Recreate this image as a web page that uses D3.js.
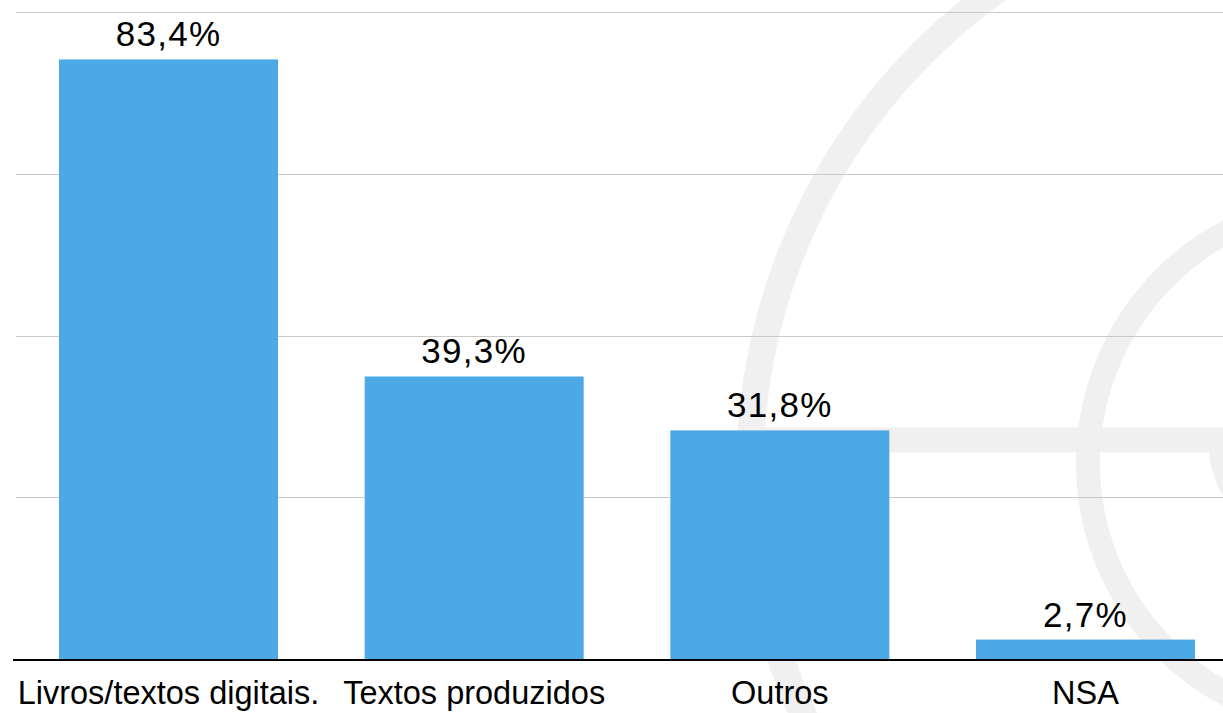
<!DOCTYPE html>
<html>
<head>
<meta charset="utf-8">
<script src="https://cdn.jsdelivr.net/npm/d3@7"></script>
<style>
  body { margin: 0; background: #fff; }
  svg { display: block; }
</style>
</head>
<body>
<svg id="chart" width="1223" height="713"></svg>
<script>
const categories = ['Livros/textos digitais.', 'Textos produzidos', 'Outros', 'NSA'];
const values = [83.4, 39.3, 31.8, 2.7];
const valueLabels = ['83,4%', '39,3%', '31,8%', '2,7%'];
const gridTicks = [22.5, 45, 67.5, 90];

const width = 1223;
const height = 713;
const baseY = 659;
const topY = 12;

const svg = d3.select('#chart');

svg.append('rect')
    .attr('width', width)
    .attr('height', height)
    .attr('fill', '#fff');

// faint logo watermark behind the chart (decoration, not data)
const markColor = '#f0f0f0';
const mark = svg.append('g');

mark.append('circle')
    .attr('cx', 1340).attr('cy', 470).attr('r', 590)
    .attr('fill', 'none')
    .attr('stroke', markColor)
    .attr('stroke-width', 27);
mark.append('circle')
    .attr('cx', 1350).attr('cy', 463).attr('r', 262)
    .attr('fill', 'none')
    .attr('stroke', markColor)
    .attr('stroke-width', 24);
mark.append('path')
    .attr('transform', 'translate(1320,440)')
    .attr('d', d3.arc()({ innerRadius: 88, outerRadius: 112, startAngle: Math.PI, endAngle: Math.PI * 1.5 }))
    .attr('fill', markColor);
mark.append('line')
    .attr('x1', 752).attr('x2', width)
    .attr('y1', 440).attr('y2', 440)
    .attr('stroke', markColor)
    .attr('stroke-width', 25);

const x = d3.scaleBand()
    .domain(categories)
    .range([16, 1238])
    .paddingInner(0.2835)
    .paddingOuter(0.1407);

const y = d3.scaleLinear()
    .domain([0, 90])
    .range([baseY, topY]);

// gridlines
svg.append('g')
    .selectAll('line')
    .data(gridTicks)
    .enter().append('line')
    .attr('x1', 16)
    .attr('x2', width)
    .attr('y1', function (d) { return Math.round(y(d)) + 0.5; })
    .attr('y2', function (d) { return Math.round(y(d)) + 0.5; })
    .attr('stroke', '#c9c9c9')
    .attr('stroke-width', 1);

// bars
svg.append('g')
    .selectAll('rect')
    .data(values)
    .enter().append('rect')
    .attr('x', function (d, i) { return x(categories[i]); })
    .attr('width', x.bandwidth())
    .attr('y', function (d) { return y(d); })
    .attr('height', function (d) { return baseY - y(d); })
    .attr('fill', '#4ca9e6');

// baseline
svg.append('line')
    .attr('x1', 13)
    .attr('x2', width)
    .attr('y1', baseY + 1)
    .attr('y2', baseY + 1)
    .attr('stroke', '#000')
    .attr('stroke-width', 2);

// value labels
svg.append('g')
    .selectAll('text')
    .data(values)
    .enter().append('text')
    .attr('x', function (d, i) { return x(categories[i]) + x.bandwidth() / 2; })
    .attr('y', function (d) { return y(d) - 13; })
    .attr('text-anchor', 'middle')
    .attr('font-family', '"Liberation Sans", Arial, sans-serif')
    .attr('font-size', '35px')
    .attr('letter-spacing', '1.3px')
    .attr('fill', '#000')
    .text(function (d, i) { return valueLabels[i]; });

// category labels
svg.append('g')
    .selectAll('text')
    .data(categories)
    .enter().append('text')
    .attr('x', function (d) { return x(d) + x.bandwidth() / 2; })
    .attr('y', 704)
    .attr('text-anchor', 'middle')
    .attr('font-family', '"Liberation Sans", Arial, sans-serif')
    .attr('font-size', '32.5px')
    .attr('fill', '#000')
    .text(function (d) { return d; });
</script>
</body>
</html>
